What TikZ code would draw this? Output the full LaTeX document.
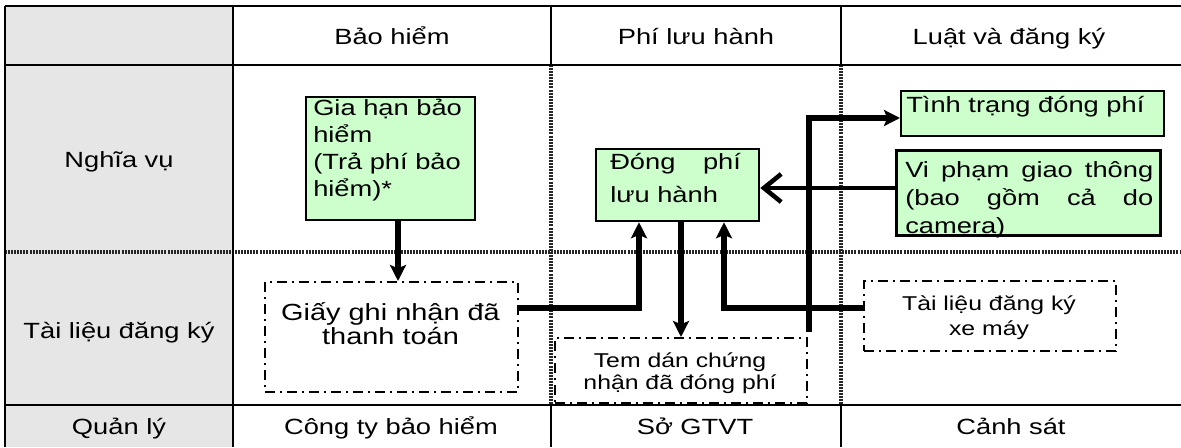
\documentclass[tikz,border=0pt]{standalone}
\usepackage{fontspec}
\setmainfont{Liberation Sans}[FakeStretch=1.24]
\usetikzlibrary{arrows.meta,calc}

\definecolor{boxgreen}{HTML}{CCFFCC}
\definecolor{headgray}{HTML}{E6E6E6}
\definecolor{gridgray}{HTML}{262626}

\newcommand\stdsize{\fontsize{16.5pt}{20.25pt}\selectfont}
\newcommand\bigdoc{\fontsize{17.5pt}{18pt}\selectfont}
\newcommand\smalldoc{\fontsize{15pt}{16.5pt}\selectfont}

\begin{document}
\begin{tikzpicture}[x=0.75pt, y=-0.75pt, font=\stdsize,
  gbox/.style={draw, line width=1.7pt, fill=boxgreen, anchor=north west, inner sep=0pt},
  dbox/.style={draw, line width=1.5pt, dash pattern=on 7.5pt off 3.75pt on 1.5pt off 3.75pt,
               anchor=north west, inner sep=0pt},
  txt/.style={inner sep=0pt, anchor=base west},
  lbl/.style={inner sep=0pt, anchor=base},
  rule/.style={line width=1.6pt},
  vrule/.style={line width=1.2pt},
  dotrule/.style={line width=2.3pt, gridgray, dash pattern=on 1.5pt off 0.8pt},
  arr/.style={line width=3.8pt, -{Stealth[length=12pt,width=12pt,inset=2.5pt]}},
  chev/.style={line width=3.4pt, -{Straight Barb[length=13pt,width=21pt]}}]

\useasboundingbox (0,0) rectangle (1181,447);

% grey label column
\fill[headgray] (5,6) rectangle (233,447);

% table rules
\draw[dotrule] (5,252) -- (1181,252);
\draw[dotrule] (551,65) -- (551,405);
\draw[dotrule] (841,65) -- (841,405);
\draw[rule] (5,6) -- (1181,6);
\draw[rule] (5,65) -- (1181,65);
\draw[rule] (5,405) -- (1181,405);
\draw[rule] (5,6) -- (5,447);
\draw[rule] (233,6) -- (233,447);
\draw[vrule] (551,6) -- (551,65);
\draw[vrule] (841,6) -- (841,65);
\draw[vrule] (551,405) -- (551,447);
\draw[vrule] (841,405) -- (841,447);

% column heads
\node[lbl] (hBH) at (392,44) {Bảo hiểm};
\node[lbl] (hPL) at (696,44) {Phí lưu hành};
\node[lbl] (hLD) at (1009,44) {Luật và đăng ký};

% row heads
\node[lbl] (rNV) at (119,167) {Nghĩa vụ};
\node[lbl] (rTL) at (119,338) {Tài liệu đăng ký};
\node[lbl] (rQL) at (119,434) {Quản lý};

% authorities
\node[lbl] (aBH) at (391,434) {Công ty bảo hiểm};
\node[lbl] (aSO) at (695,434) {Sở GTVT};
\node[lbl] (aCS) at (1011,434) {Cảnh sát};

% obligations (green)
\node[gbox, minimum width=126.75pt, minimum height=92.25pt] (gh) at (305,96) {};
\node[txt] (gh-t) at (313,115) {\parbox[t]{118pt}{\raggedright Gia hạn bảo\\hiểm\\(Trả phí bảo\\hiểm)*}};

\node[gbox, minimum width=122.25pt, minimum height=54pt] (dong) at (595,148) {};
\node[txt] (dong-t) at (610,169) {\parbox[t]{98pt}{\setlength\baselineskip{24.75pt}Đóng\hfill phí\\lưu hành}};

\node[gbox, minimum width=197.25pt, minimum height=33.75pt] (tt) at (900,90) {};
\node[txt] (tt-t) at (906,112) {Tình trạng đóng phí};

\node[gbox, minimum width=197.25pt, minimum height=63pt] (vp) at (896,150) {};
\node[txt] (vp-t) at (905,177) {\parbox[t]{186pt}{\setlength\baselineskip{21pt}Vi\hfill phạm\hfill giao\hfill thông\\(bao\hfill gồm\hfill cả\hfill do\\camera)}};
\draw[line width=1.7pt] (vp.south west) rectangle (vp.north east);

% documents (dash-dot)
\node[dbox, minimum width=189.75pt, minimum height=82.5pt] (giay) at (264,281) {};
\node[lbl] (giay-t) at (390.5,320) {\parbox[t]{185pt}{\bigdoc\centering Giấy ghi nhận đã\\thanh toán}};

\node[dbox, minimum width=189pt, minimum height=48.75pt] (tem) at (554,337) {};
\node[lbl] (tem-t) at (680,367) {\parbox[t]{185pt}{\smalldoc\centering Tem dán chứng\\nhận đã đóng phí}};

\node[dbox, minimum width=189pt, minimum height=52.5pt] (xm) at (863,280) {};
\node[lbl] (xm-t) at (989,310) {\parbox[t]{185pt}{\smalldoc\setlength\baselineskip{18.75pt}\centering Tài liệu đăng ký\\xe máy}};

% guide positions for the connectors
\coordinate (v1) at (398,0);
\coordinate (v2) at (639,0);
\coordinate (v3) at (681,0);
\coordinate (v4) at (724,0);
\coordinate (h1) at (0,308);
\coordinate (h2) at (0,118);
\coordinate (h3) at (0,188);
\coordinate (ts) at ($(tem.north east)+(1,-5)$);

% connectors
\draw[arr] (gh.south -| v1) -- (giay.north -| v1);
\draw[arr] (giay.east |- h1) -| (dong.south -| v2);
\draw[arr] (dong.south -| v3) -- (tem.north -| v3);
\draw[arr] (xm.west |- h1) -| (dong.south -| v4);
\draw[arr] (ts) |- (tt.west |- h2);
\draw[chev] (vp.west |- h3) -- (dong.east |- h3);

\end{tikzpicture}
\end{document}
